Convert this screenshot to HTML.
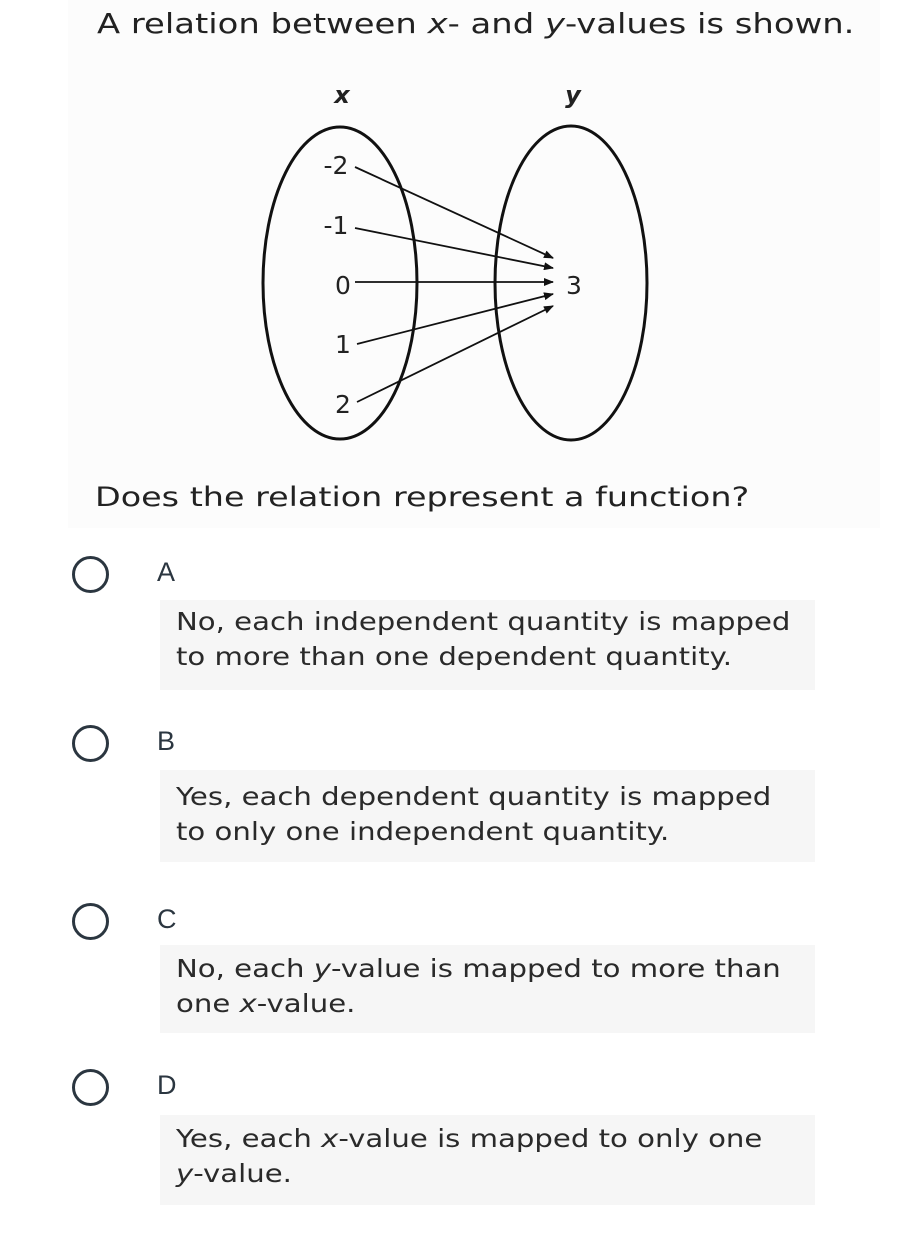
<!DOCTYPE html>
<html><head><meta charset="utf-8"><style>
body{margin:0;width:906px;height:1233px;background:#fff;position:relative;font-family:"DejaVu Sans","Liberation Sans",sans-serif;color:#222;overflow:hidden}
.t{position:absolute;white-space:nowrap;transform-origin:0 0}
.box{position:absolute;left:160px;width:655px;background:#f6f6f6}
.rad{position:absolute;left:72px;width:31px;height:31px;border:3.5px solid #2b3640;border-radius:50%}
.let{position:absolute;left:157px;font-family:"Liberation Sans",sans-serif;font-size:27px;color:#2b3640}
.opt{position:absolute;left:176px;font-size:24.5px;line-height:35px;color:#2a2a2a;white-space:nowrap;transform:scaleX(1.19);transform-origin:0 0}
</style></head><body>
<div style="position:absolute;left:68px;top:0;width:812px;height:528px;background:#fcfcfc"></div>
<div class="t" style="left:97px;top:8px;font-size:27.5px;transform:scaleX(1.23)">A relation between <i>x</i>- and <i>y</i>-values is shown.</div>
<svg style="position:absolute;left:0;top:0" width="906" height="460">
<defs><marker id="a" markerWidth="10" markerHeight="8" refX="9" refY="4" orient="auto" markerUnits="userSpaceOnUse"><path d="M0,0 L10,4 L0,8 Z" fill="#111"/></marker></defs>
<g fill="none" stroke="#111" stroke-width="3">
<ellipse cx="340" cy="283" rx="77" ry="156"/>
<ellipse cx="571" cy="283" rx="76" ry="157"/>
</g>
<g stroke="#111" stroke-width="1.8" marker-end="url(#a)">
<line x1="355" y1="167" x2="553" y2="258"/>
<line x1="355" y1="228" x2="553" y2="268"/>
<line x1="355" y1="282" x2="553" y2="282"/>
<line x1="357" y1="344" x2="553" y2="294"/>
<line x1="357" y1="402" x2="553" y2="306"/>
</g>
<g font-family="DejaVu Sans,sans-serif" font-size="25" fill="#222">
<text x="336" y="174" text-anchor="middle">-2</text>
<text x="336" y="234" text-anchor="middle">-1</text>
<text x="343" y="294" text-anchor="middle">0</text>
<text x="343" y="353" text-anchor="middle">1</text>
<text x="343" y="413" text-anchor="middle">2</text>
<text x="574" y="294" text-anchor="middle">3</text>
</g>
<g font-family="DejaVu Sans,sans-serif" font-size="24" fill="#222">
<text x="342" y="103" font-weight="bold" font-style="italic" text-anchor="middle">x</text>
<text x="573" y="103" font-weight="bold" font-style="italic" text-anchor="middle">y</text>
</g>
</svg>
<div class="t" style="left:95px;top:482px;font-size:26.5px;transform:scaleX(1.26)">Does the relation represent a function?</div>

<div class="rad" style="top:556px"></div><div class="let" style="top:557px">A</div>
<div class="box" style="top:600px;height:90px"></div>
<div class="opt" style="top:604px">No, each independent quantity is mapped<br>to more than one dependent quantity.</div>

<div class="rad" style="top:725px"></div><div class="let" style="top:726px">B</div>
<div class="box" style="top:770px;height:92px"></div>
<div class="opt" style="top:779px">Yes, each dependent quantity is mapped<br>to only one independent quantity.</div>

<div class="rad" style="top:903px"></div><div class="let" style="top:904px">C</div>
<div class="box" style="top:945px;height:88px"></div>
<div class="opt" style="top:951px">No, each <i>y</i>-value is mapped to more than<br>one <i>x</i>-value.</div>

<div class="rad" style="top:1069px"></div><div class="let" style="top:1070px">D</div>
<div class="box" style="top:1115px;height:90px"></div>
<div class="opt" style="top:1121px">Yes, each <i>x</i>-value is mapped to only one<br><i>y</i>-value.</div>
</body></html>
